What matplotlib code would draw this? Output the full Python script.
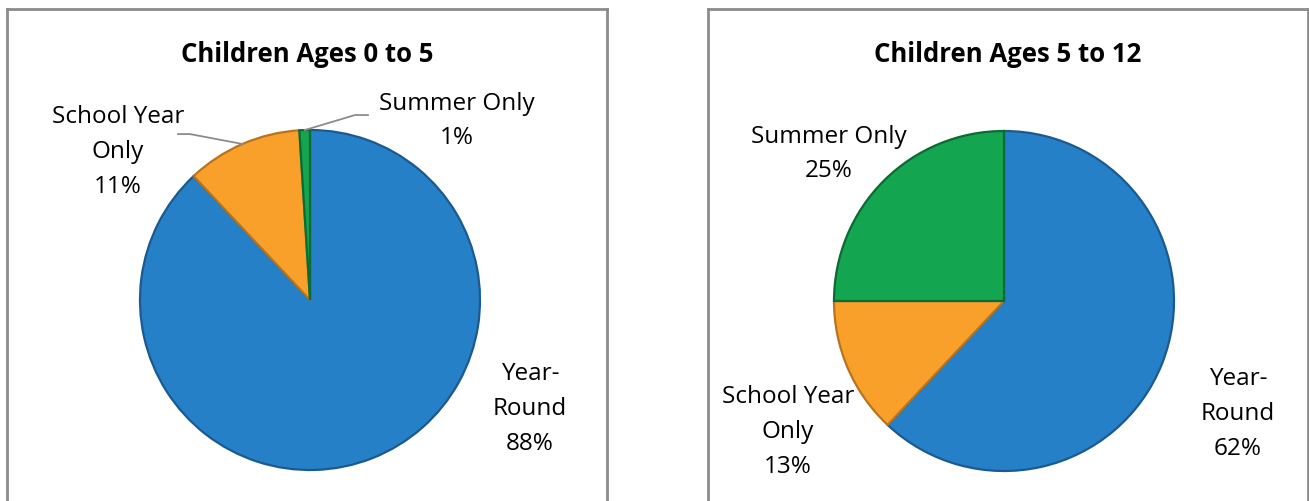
import numpy as np
import matplotlib.pyplot as plt

plt.rcParams['font.family'] = ['Open Sans', 'DejaVu Sans']

# data
categories = ['Year-\nRound', 'School Year\nOnly', 'Summer Only']
ages_0_5 = [88, 11, 1]
ages_5_12 = [62, 13, 25]
titles = ['Children Ages 0 to 5', 'Children Ages 5 to 12']

colors = ['#2580C8', '#F9A02A', '#14A550']
edge_colors = ['#1B5A90', '#B8741C', '#0B6B34']

W, H = 1309, 502
fig = plt.figure(figsize=(W / 100, H / 100), dpi=100)


def make_axes(x0, x1, y0, y1, cx, cy, r):
    # axes placed in pixel box, data units = pie radius
    ax = fig.add_axes([x0 / W, 1 - y1 / H, (x1 - x0) / W, (y1 - y0) / H])
    return ax, ((x0 - cx) / r, (x1 - cx) / r), ((cy - y1) / r, (cy - y0) / r)


def draw_panel(ax, xl, yl, values, title, label_pos, leaders):
    wedges, _ = ax.pie(values, colors=colors, startangle=90, counterclock=False,
                       radius=1, wedgeprops=dict(linewidth=1.6))
    for w, ec in zip(wedges, edge_colors):
        w.set_edgecolor(ec)
    ax.set_aspect('auto')
    ax.set_xlim(*xl)
    ax.set_ylim(*yl)
    ax.set_frame_on(True)
    ax.set_xticks([])
    ax.set_yticks([])
    for s in ['top', 'left', 'right']:
        ax.spines[s].set_color('#8c8c8c')
        ax.spines[s].set_linewidth(2)
    ax.spines['bottom'].set_visible(False)
    ax.text(0.5, 0.91, title, transform=ax.transAxes, ha='center', va='center',
            fontsize=18.5, fontweight='bold', color='black')

    total = float(sum(values))
    start = 0.0
    for i, v in enumerate(values):
        lab = categories[i] + '\n' + '%d%%' % round(v / total * 100)
        tx, ty = label_pos[i]
        ax.text(tx, ty, lab, ha='center', va='center', fontsize=17.5,
                linespacing=1.6, color='black')
        mid = start + v / total / 2
        start += v / total
        if leaders[i] is not None:
            ang = np.pi / 2 - 2 * np.pi * mid
            px, py = np.cos(ang), np.sin(ang)
            (ex, ey), (hx, hy) = leaders[i]
            ax.plot([px, ex, hx], [py, ey, hy], color='#8c8c8c', lw=1.3)


ax1, xl1, yl1 = make_axes(7, 607, 10, 502, 310, 301, 170)
draw_panel(ax1, xl1, yl1, ages_0_5, titles[0],
           [(1.294, -0.635), (-1.129, 0.876), (0.865, 1.059)],
           [None, ((-0.706, 0.976), (-0.776, 0.976)),
            ((0.265, 1.088), (0.341, 1.088))])

ax2, xl2, yl2 = make_axes(708, 1308, 10, 502, 1004, 302, 170)
draw_panel(ax2, xl2, yl2, ages_5_12, titles[1],
           [(1.376, -0.659), (-1.271, -0.765), (-1.029, 0.871)],
           [None, None, None])

fig.savefig('out.png', dpi=100)
